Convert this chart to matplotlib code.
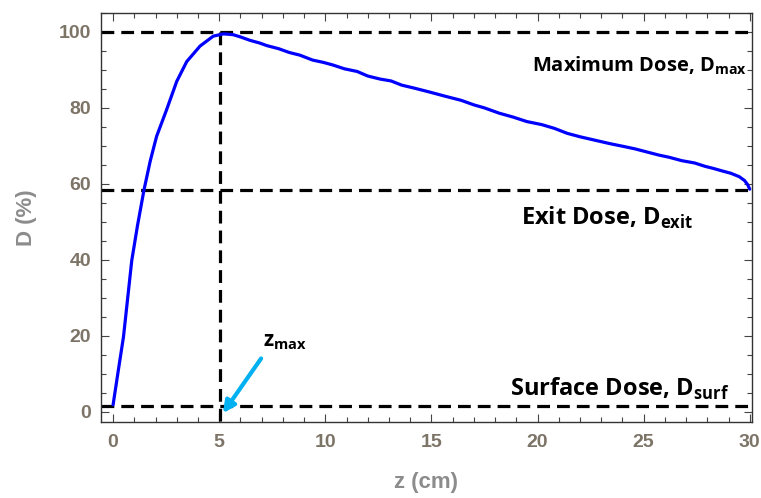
import matplotlib.pyplot as plt
from matplotlib.ticker import MultipleLocator

# depth-dose curve
z_cm = [0.0, 0.25, 0.49, 0.88, 1.15, 1.46, 1.75, 2.05, 2.52, 3.0, 3.47, 4.1, 4.72, 5.2,
        5.65, 6.0, 6.45, 6.9, 7.25, 7.8, 8.3, 8.8, 9.4, 9.9, 10.36, 10.9, 11.5, 12.0,
        12.58, 13.1, 13.6, 14.2, 14.9, 15.7, 16.4, 17.0, 17.5, 18.2, 18.84, 19.5, 20.2,
        20.8, 21.4, 22.0, 22.7, 23.4, 24.1, 24.6, 25.15, 25.7, 26.2, 26.8, 27.4, 27.9,
        28.26, 28.7, 29.1, 29.5, 29.75, 29.9, 30.0]
dose = [1.8, 11.0, 19.7, 39.8, 49.0, 58.5, 66.0, 72.5, 79.5, 87.0, 92.2, 96.3, 98.9, 99.5,
        99.3, 98.7, 97.8, 97.1, 96.4, 95.6, 94.6, 93.9, 92.6, 92.0, 91.3, 90.3, 89.6, 88.4,
        87.6, 87.1, 86.0, 85.2, 84.2, 83.0, 82.0, 80.8, 80.0, 78.6, 77.6, 76.4, 75.6,
        74.6, 73.3, 72.4, 71.5, 70.6, 69.8, 69.2, 68.4, 67.6, 67.0, 66.1, 65.5, 64.6,
        64.1, 63.4, 62.8, 61.9, 60.9, 59.8, 58.6]

d_max = 100.0
d_exit = 58.5
d_surf = 1.6
z_max = 5.05

tick_color = '#7d7468'
label_color = '#8c8c8c'

plt.rcParams['mathtext.fontset'] = 'custom'
plt.rcParams['mathtext.rm'] = 'Open Sans:bold'

fig = plt.figure(figsize=(7.61, 4.98), dpi=100)
ax = fig.add_axes([0.1327, 0.1536, 0.8553, 0.8203])

dash = dict(color='black', lw=2.3, dashes=(4, 2.2))
ax.plot([-0.57, 30.0], [d_max, d_max], **dash)
ax.plot([-0.57, 30.0], [d_exit, d_exit], **dash)
ax.plot([-0.57, 30.0], [d_surf, d_surf], **dash)
ax.plot([z_max, z_max], [d_max, -2.6], **dash)

ax.plot(z_cm, dose, color='#0000ff', lw=2.3, solid_capstyle='round')

ax.set_xlim(-0.57, 30.1)
ax.set_ylim(-2.6, 105)
ax.xaxis.set_major_locator(MultipleLocator(5))
ax.xaxis.set_minor_locator(MultipleLocator(1))
ax.yaxis.set_major_locator(MultipleLocator(20))
ax.yaxis.set_minor_locator(MultipleLocator(5))
ax.tick_params(which='both', direction='in', top=True, right=True,
               color='#444444', width=0.8)
ax.tick_params(which='major', length=6, labelsize=14, labelcolor=tick_color, pad=7)
ax.tick_params(axis='x', which='major', pad=9)
ax.tick_params(which='minor', length=3.5)
for lab in ax.get_xticklabels() + ax.get_yticklabels():
    lab.set_fontweight('bold')
    lab.set_family('Liberation Sans')
for sp in ax.spines.values():
    sp.set_linewidth(1.0)
    sp.set_color('#333333')

ax.set_xlabel('z (cm)', fontsize=16, fontweight='bold', color=label_color,
              family='Liberation Sans', labelpad=15)
ax.set_ylabel('D (%)', fontsize=16, fontweight='bold', color=label_color,
              family='Liberation Sans', labelpad=16)

txt = dict(family='Open Sans', fontweight='bold', color='black', va='baseline')
ax.text(29.86, 89.5, r'Maximum Dose, D$_{\mathrm{max}}$', ha='right', fontsize=14.5, **txt)
ax.text(27.32, 49.2, r'Exit Dose, D$_{\mathrm{exit}}$', ha='right', fontsize=17, **txt)
ax.text(29.06, 4.1, r'Surface Dose, D$_{\mathrm{surf}}$', ha='right', fontsize=17, **txt)
ax.text(7.07, 17.1, r'z$_{\mathrm{max}}$', ha='left', fontsize=15, **txt)

ax.annotate('', xy=(z_max + 0.05, -1.0), xytext=(7.05, 14.6),
            arrowprops=dict(arrowstyle='-|>,head_length=0.7,head_width=0.35',
                            color='#00b0f0', lw=3))

fig.savefig('out.png', dpi=100)
